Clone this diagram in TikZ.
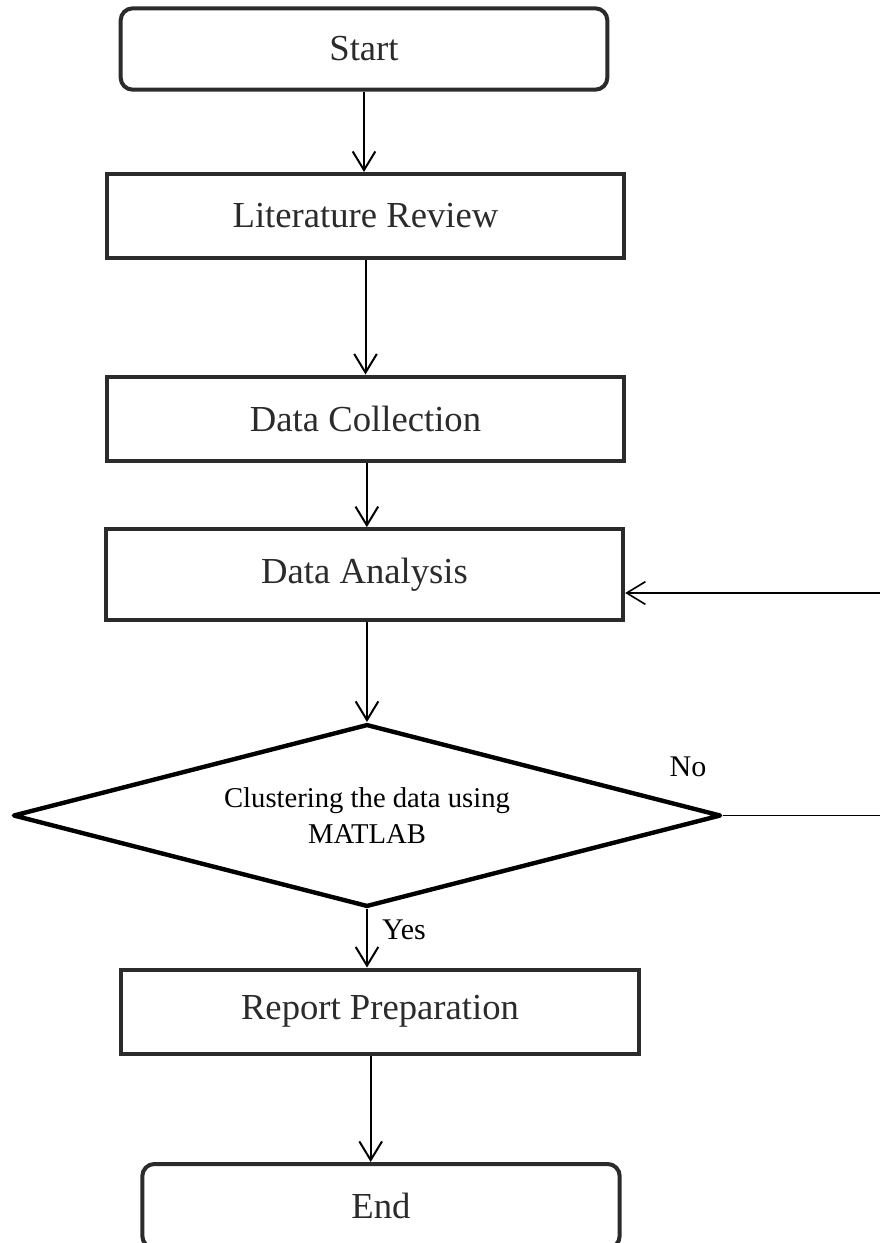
\documentclass[tikz,border=0pt]{standalone}
\usepackage{fontspec}
\setmainfont{Liberation Serif}
\usetikzlibrary{arrows.meta, shapes.geometric, positioning}
\definecolor{boxgray}{HTML}{2B2B2B}

\begin{document}
\begin{tikzpicture}[
	x=0.75pt, y=-0.75pt,
	startstop/.style={rectangle, draw=boxgray, line width=3pt, rounded corners=9pt, minimum height=61pt, align=center, text=boxgray, font=\fontsize{27.5}{33}\selectfont},
	process/.style={rectangle, draw=boxgray, line width=3pt, minimum width=388pt, minimum height=63pt, align=center, text=boxgray, font=\fontsize{27.5}{33}\selectfont},
	decision/.style={diamond, draw, line width=3.3pt, line join=round, shape aspect=3.9, inner sep=0pt, minimum width=531pt, minimum height=137pt, align=center, font=\fontsize{21.5}{27}\selectfont},
	lbl/.style={font=\fontsize{22.5}{27}\selectfont},
	arrow/.style={-{Straight Barb[length=14pt, width=17pt]}, line width=1.5pt},
	every node/.style={align=center}
	]
	\useasboundingbox (0,0) rectangle (880,1243);
	\clip (0,0) rectangle (880,1243);
	\node[startstop, minimum width=365pt] (start) at (364,49) {Start};
	\node[process] (lit) at (365.5,216) {Literature Review};
	\node[process] (coll) at (365.5,418.5) {Data Collection};
	\node[process, minimum height=68pt] (anal) at (364.5,574.5) {Data Analysis};
	\node[decision] (clus) at (367,815.5) {Clustering the data using\\MATLAB};
	\node[process] (rep) at (380,1011.5) {Report Preparation};
	\node[startstop, minimum width=358pt, minimum height=63pt] (finish) at (381,1206) {End};
	\node[lbl] (no) at (688,767) {No};
	\node[lbl] (yes) at (404,930) {Yes};
	\coordinate (fbcorner) at (886,815.5);
	\coordinate (fbtop) at (886,593);
	\draw[arrow] (start.south) -- (start.south |- lit.north);
	\draw[arrow] (lit.south) -- (lit.south |- coll.north);
	\draw[arrow] ([xshift=1pt]coll.south) -- ([xshift=1pt]coll.south |- anal.north);
	\draw[arrow] (clus.north |- anal.south) -- (clus.north);
	\draw[arrow] (clus.south) -- (clus.south |- rep.north);
	\draw[arrow] ([xshift=-7pt]rep.south) -- ([xshift=-7pt]rep.south |- finish.north);
	% No branch back to the analysis
	\draw[line width=1.2pt] (clus.east) -- (fbcorner) -- (fbtop);
	\draw[arrow, line width=1.2pt] (fbtop) -- (anal.east |- fbtop);
\end{tikzpicture}
\end{document}
